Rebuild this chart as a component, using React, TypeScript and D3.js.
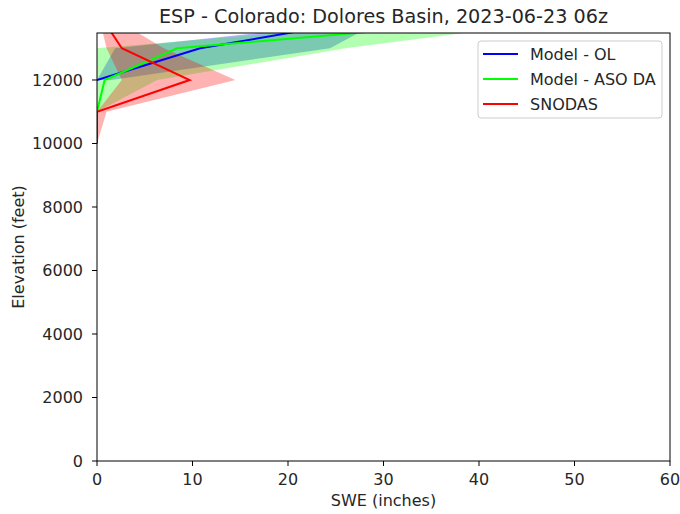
import * as d3 from "d3";

// elevation bins (feet)
const elevations = [10000, 11000, 12000, 13000, 13500];

// SWE (inches) per series, null where the series has no value
const olMean = [null, null, 0, 10.8, 20.5];
const olLow = [null, null, 0, 1.9, 17.5];
const olHigh = [null, null, 1.5, 24.4, 27.5];

const asoMean = [null, 0, 0.8, 8.4, 28];
const asoLow = [null, 0, 0, 0, 20];
const asoHigh = [null, 0, 6.3, 26, 39];

const snodasMean = [0, 0, 9.7, 2.6, 1.5];
const snodasLow = [0, 0, 2.6, 1.0, 0.6];
const snodasHigh = [0, 1.0, 14.5, 7.0, 4.2];

const xTicks = [0, 10, 20, 30, 40, 50, 60];
const yTicks = [0, 2000, 4000, 6000, 8000, 10000, 12000];

const series = [
  {name: "Model - OL", color: "#0000ff", mean: olMean, low: olLow, high: olHigh},
  {name: "Model - ASO DA", color: "#00ff00", mean: asoMean, low: asoLow, high: asoHigh},
  {name: "SNODAS", color: "#ff0000", mean: snodasMean, low: snodasLow, high: snodasHigh},
];

const title = "ESP - Colorado: Dolores Basin, 2023-06-23 06z";

export default function App() {
  const width = 680;
  const height = 514;
  const marginLeft = 97;
  const marginRight = 10;
  const marginTop = 33;
  const marginBottom = 53;
  const font = "DejaVu Sans, sans-serif";
  const fs = 16;

  const x = d3.scaleLinear([0, 60], [marginLeft, width - marginRight]);
  const y = d3.scaleLinear([0, 13480], [height - marginBottom, marginTop]);

  const idx = elevations.map((_, i) => i);

  const area = (s) =>
    d3.area<number>()
      .defined((i) => s.low[i] != null && s.high[i] != null)
      .y((i) => y(elevations[i]))
      .x0((i) => x(s.low[i]))
      .x1((i) => x(s.high[i]))(idx);

  const line = (s) =>
    d3.line<number>()
      .defined((i) => s.mean[i] != null)
      .x((i) => x(s.mean[i]))
      .y((i) => y(elevations[i]))(idx);

  const [x0, x1] = x.range();
  const [yb, yt] = y.range();

  return (
    <svg width={width} height={height} style={{position: "absolute", left: 0, top: 0, background: "white"}} fontFamily={font} fill="#262626">
      <defs>
        <clipPath id="plot">
          <rect x={x0} y={yt} width={x1 - x0} height={yb - yt} />
        </clipPath>
      </defs>
      <text x={(x0 + x1) / 2} y={23} textAnchor="middle" fontSize={19.2}>{title}</text>

      <g clipPath="url(#plot)">
        {series.map((s) => (
          <path key={s.name + "-band"} d={area(s)} fill={s.color} fillOpacity={0.3} stroke="none" />
        ))}
        {series.map((s) => (
          <path key={s.name + "-line"} d={line(s)} fill="none" stroke={s.color} strokeWidth={2} />
        ))}
      </g>

      <rect x={x0} y={yt} width={x1 - x0} height={yb - yt} fill="none" stroke="black" strokeWidth={1} />

      <g fontSize={fs}>
        {xTicks.map((t) => (
          <g key={"x" + t} transform={`translate(${x(t)},${yb})`}>
            <line y2={5} stroke="black" />
            <text y={24} textAnchor="middle">{t}</text>
          </g>
        ))}
        {yTicks.map((t) => (
          <g key={"y" + t} transform={`translate(${x0},${y(t)})`}>
            <line x2={-5} stroke="black" />
            <text x={-14} dy="0.35em" textAnchor="end">{t}</text>
          </g>
        ))}
      </g>

      <text x={(x0 + x1) / 2} y={506} textAnchor="middle" fontSize={fs}>SWE (inches)</text>
      <text transform={`translate(24,${(yt + yb) / 2}) rotate(-90)`} textAnchor="middle" fontSize={fs}>Elevation (feet)</text>

      <g transform="translate(478,41)">
        <rect width={184} height={77} rx={3} fill="white" fillOpacity={0.8} stroke="#cccccc" />
        {series.map((s, i) => (
          <g key={s.name} transform={`translate(0,${13 + i * 25})`}>
            <line x1={5} x2={40} stroke={s.color} strokeWidth={2} />
            <text x={52} dy="0.35em" fontSize={fs}>{s.name}</text>
          </g>
        ))}
      </g>
    </svg>
  );
}
